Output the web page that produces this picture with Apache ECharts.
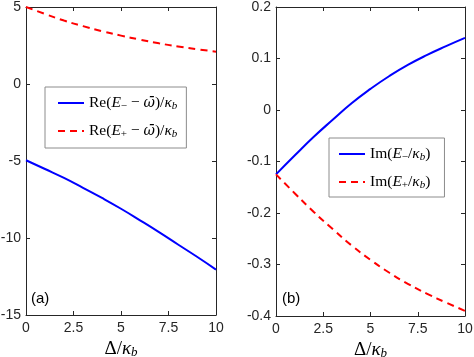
<!DOCTYPE html>
<html>
<head>
<meta charset="utf-8">
<script src="https://cdn.jsdelivr.net/npm/echarts@6/dist/echarts.min.js"></script>
<style>html,body{margin:0;padding:0;background:#fff;}#c{width:474px;height:357px;}</style>
</head>
<body>
<div id="c"></div>
<script>
// ---- data ----
var delta = [0, 1, 2, 3, 4, 5, 6, 7, 8, 9, 10];
var reMinus = [-4.95, -5.52, -6.10, -6.74, -7.40, -8.10, -8.85, -9.62, -10.42, -11.22, -12.05];
var rePlus  = [5.00, 4.55, 4.12, 3.76, 3.43, 3.14, 2.88, 2.64, 2.44, 2.26, 2.10];
var imMinus = [-0.125, -0.088, -0.052, -0.019, 0.013, 0.041, 0.066, 0.088, 0.107, 0.124, 0.140];
var imPlus  = [-0.125, -0.162, -0.198, -0.231, -0.263, -0.291, -0.316, -0.338, -0.357, -0.374, -0.390];
var xTicks = [0, 2.5, 5, 7.5, 10];
var leftTicks = [5, 0, -5, -10, -15];
var rightTicks = [0.2, 0.1, 0, -0.1, -0.2, -0.3, -0.4];

function zip(xs, ys) { return xs.map(function (x, i) { return [x, ys[i]]; }); }

var axisColor = '#262626';
var sans = 'Liberation Sans';
var serif = 'Liberation Serif';

var rich = {
  r: { fontFamily: serif, fontSize: 15.5, color: '#000', lineHeight: 18, verticalAlign: 'middle' },
  i: { fontFamily: serif, fontStyle: 'italic', fontSize: 15.5, color: '#000', lineHeight: 18, verticalAlign: 'middle' },
  w: { fontFamily: 'DejaVu Serif', fontStyle: 'italic', fontSize: 14, color: '#000', lineHeight: 18, verticalAlign: 'middle' },
  s: { fontFamily: serif, fontStyle: 'italic', fontSize: 11, color: '#000', lineHeight: 8, verticalAlign: 'bottom' },
  u: { fontFamily: serif, fontSize: 11, color: '#000', lineHeight: 8, verticalAlign: 'bottom' }
};
var nameRich = {
  r: { fontFamily: serif, fontSize: 19, color: '#000', lineHeight: 20, verticalAlign: 'middle' },
  i: { fontFamily: serif, fontStyle: 'italic', fontSize: 19, color: '#000', lineHeight: 20, verticalAlign: 'middle' },
  s: { fontFamily: serif, fontStyle: 'italic', fontSize: 13, color: '#000', lineHeight: 9, verticalAlign: 'bottom' }
};

var labels = {
  'reM': '{r|Re(}{i|E}{u|\u2212}{r| \u2212 }{w|\u03C9\u0304}{r|)/}{i|\u03BA}{s|b}',
  'reP': '{r|Re(}{i|E}{u|+}{r| \u2212 }{w|\u03C9\u0304}{r|)/}{i|\u03BA}{s|b}',
  'imM': '{r|Im(}{i|E}{u|\u2212}{r|/}{i|\u03BA}{s|b}{r|)}',
  'imP': '{r|Im(}{i|E}{u|+}{r|/}{i|\u03BA}{s|b}{r|)}'
};

function xAxisDef(gi, pos) {
  var main = pos === 'bottom';
  return {
    type: 'value', gridIndex: gi, position: pos, min: 0, max: 10, interval: 2.5,
    axisLine: { show: true, onZero: false, lineStyle: { color: axisColor, width: 1 } },
    axisTick: { show: true, inside: true, length: 4, lineStyle: { color: axisColor } },
    axisLabel: { show: main, color: axisColor, fontFamily: sans, fontSize: 14, margin: 6 },
    splitLine: { show: false },
    name: main ? '{r|\u0394/}{i|\u03BA}{s|b}' : '',
    nameLocation: 'middle', nameGap: 19,
    nameTextStyle: { rich: nameRich }
  };
}
function yAxisDef(gi, pos, min, max, interval) {
  var main = pos === 'left';
  return {
    type: 'value', gridIndex: gi, position: pos, min: min, max: max, interval: interval,
    axisLine: { show: true, onZero: false, lineStyle: { color: axisColor, width: 1 } },
    axisTick: { show: true, inside: true, length: 4, lineStyle: { color: axisColor } },
    axisLabel: { show: main, color: axisColor, fontFamily: sans, fontSize: 14, margin: 5,
      formatter: function (v) { return String(Math.round(v * 1000) / 1000); } },
    splitLine: { show: false }
  };
}

function lineSeries(name, xi, yi, ys, color, dashed) {
  return {
    name: name, type: 'line', xAxisIndex: xi, yAxisIndex: yi,
    data: zip(delta, ys), smooth: true, symbol: 'none', showSymbol: false,
    lineStyle: { color: color, width: 2, type: dashed ? [7, 5] : 'solid' },
    itemStyle: { color: color },
    emphasis: { disabled: true }, animation: false
  };
}

function legendDef(names, left, top, padding) {
  return {
    data: names, orient: 'vertical', left: left, top: top,
    padding: padding, itemGap: 11, itemWidth: 26, itemHeight: 14,
    backgroundColor: '#fff', borderColor: '#8c8c8c', borderWidth: 1,
    selectedMode: false,
    itemStyle: { opacity: 0, borderWidth: 0 },
    formatter: function (n) { return labels[n]; },
    textStyle: { rich: rich }
  };
}

var chart = echarts.init(document.getElementById('c'), null, { renderer: 'canvas' });
chart.setOption({
  animation: false,
  backgroundColor: '#fff',
  grid: [
    { left: 26, right: 258, top: 7, bottom: 42, outerBoundsMode: 'none', containLabel: false },
    { left: 276, right: 9, top: 7, bottom: 41, outerBoundsMode: 'none', containLabel: false }
  ],
  xAxis: [xAxisDef(0, 'bottom'), xAxisDef(1, 'bottom'), xAxisDef(0, 'top'), xAxisDef(1, 'top')],
  yAxis: [yAxisDef(0, 'left', -15, 5, 5), yAxisDef(1, 'left', -0.4, 0.2, 0.1),
          yAxisDef(0, 'right', -15, 5, 5), yAxisDef(1, 'right', -0.4, 0.2, 0.1)],
  legend: [
    legendDef(['reM', 'reP'], 45, 87, [8, 9, 8, 12]),
    legendDef(['imM', 'imP'], 329, 138, [8, 14, 6, 9])
  ],
  graphic: [
    { type: 'text', left: 31, top: 291, style: { text: '(a)', fontFamily: sans, fontSize: 15, fill: '#000' } },
    { type: 'text', left: 282, top: 291, style: { text: '(b)', fontFamily: sans, fontSize: 15, fill: '#000' } }
  ],
  series: [
    lineSeries('reM', 0, 0, reMinus, '#0000ff', false),
    lineSeries('reP', 0, 0, rePlus, '#ff0000', true),
    lineSeries('imM', 1, 1, imMinus, '#0000ff', false),
    lineSeries('imP', 1, 1, imPlus, '#ff0000', true)
  ]
});
</script>
</body>
</html>
